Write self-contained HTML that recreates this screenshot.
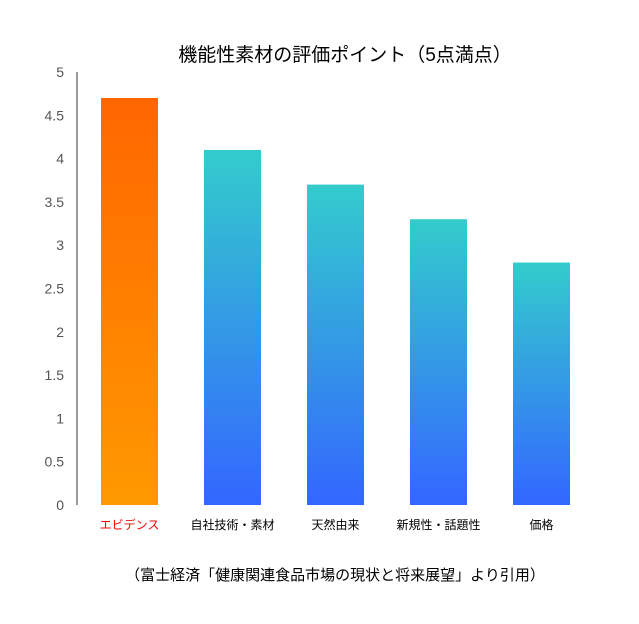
<!DOCTYPE html>
<html><head><meta charset="utf-8"><style>
body{margin:0;background:#fff;}
svg{display:block;font-family:"Liberation Sans","Noto Sans CJK JP",sans-serif;}
</style></head><body>
<svg id="chart" width="639" height="624">
<defs>
<linearGradient id="gO" x1="0" y1="0" x2="0" y2="1"><stop offset="0" stop-color="#ff6600"/><stop offset="1" stop-color="#ff9900"/></linearGradient>
<linearGradient id="gB" x1="0" y1="0" x2="0" y2="1"><stop offset="0" stop-color="#33cccc"/><stop offset="1" stop-color="#3366ff"/></linearGradient>
</defs>
<text x="345" y="61" font-size="19" text-anchor="middle" fill="#000">機能性素材の評価ポイント（5点満点）</text>
<line x1="77" y1="72" x2="77" y2="505" stroke="#333" stroke-width="1"/>
<g id="ticks"></g><g id="bars"></g><g id="cats"></g>
<text x="335" y="580" font-size="15" text-anchor="middle" fill="#000">（富士経済「健康関連食品市場の現状と将来展望」より引用）</text>
</svg>
<script>
const categories=["エビデンス","自社技術・素材","天然由来","新規性・話題性","価格"];
const values=[4.7,4.1,3.7,3.3,2.8];
const tickLabels=["0","0.5","1","1.5","2","2.5","3","3.5","4","4.5","5"];
const ns="http://www.w3.org/2000/svg";
const y0=505,yTop=72,yMax=5;
const yS=v=>y0-(v/yMax)*(y0-yTop);
const xS=i=>101+i*103;
const bw=57;
const tg=document.getElementById('ticks'),bg=document.getElementById('bars'),cg=document.getElementById('cats');
tickLabels.forEach(t=>{
const e=document.createElementNS(ns,'text');


e.setAttribute('x',64);e.setAttribute('y',yS(parseFloat(t))+5);
e.setAttribute('text-anchor','end');e.setAttribute('font-size','14');e.setAttribute('fill','#555');
e.textContent=t;tg.appendChild(e);});
values.forEach((v,i)=>{
const r=document.createElementNS(ns,'rect');


r.setAttribute('x',xS(i));r.setAttribute('y',yS(v));r.setAttribute('width',bw);r.setAttribute('height',y0-yS(v));
r.setAttribute('fill',i===0?'url(#gO)':'url(#gB)');bg.appendChild(r);
const t=document.createElementNS(ns,'text');


t.setAttribute('x',xS(i)+bw/2);t.setAttribute('y',529);t.setAttribute('text-anchor','middle');
t.setAttribute('font-size','12');t.setAttribute('fill',i===0?'#ff0000':'#000');
t.textContent=categories[i];cg.appendChild(t);});
</script>
</body></html>
